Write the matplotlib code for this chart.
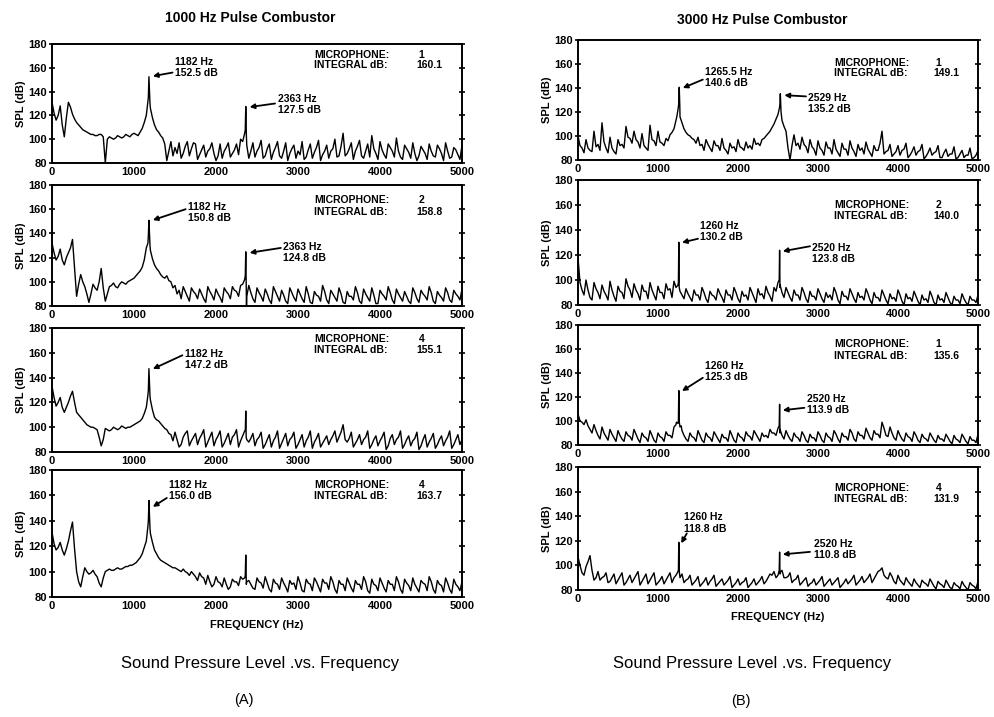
import numpy as np
import matplotlib
matplotlib.use("Agg")
import matplotlib.pyplot as plt

plt.rcParams['font.family'] = ['Liberation Sans', 'DejaVu Sans']

# analyser bins (Hz): main bins every 50 Hz and the in-between bins
freq_grid = np.arange(0, 5001, 50)
mid_grid = np.arange(25, 5000, 50)

# ---- (A) 1000 Hz pulse combustor ----
a1_spl = [131, 116, 128, 102, 131, 121, 114, 110, 107, 105, 104, 103, 104, 80, 102, 100, 103, 101, 104, 102,
          105, 103, 109, 120, 126, 112, 106, 101, 82, 98, 93, 97, 88, 98, 92, 96, 87, 95, 90, 97,
          82, 96, 90, 97, 88, 96, 100, 105, 84, 97, 90, 99, 86, 96, 89, 98, 84, 97, 88, 95,
          90, 98, 85, 96, 89, 99, 87, 95, 90, 100, 86, 105, 88, 97, 90, 99, 84, 96, 103, 88,
          98, 87, 96, 90, 101, 85, 95, 89, 97, 82, 94, 88, 96, 86, 95, 88, 97, 84, 93, 87, 95]
a1_mid = [122, 120, 112, 118, 127, 117, 112, 108, 106, 104,
          103, 104, 102, 100, 101, 101, 102, 102, 103, 104,
          104, 106, 114, 135, 118, 108, 103, 96, 90, 86,
          88, 84, 94, 86, 97, 83, 91, 85, 92, 88,
          86, 84, 93, 85, 91, 87, 98, 95, 90, 85,
          93, 84, 92, 83, 93, 86, 90, 82, 92, 84,
          87, 83, 91, 84, 93, 82, 90, 84, 92, 85,
          94, 86, 92, 83, 94, 86, 90, 85, 92, 83,
          91, 84, 93, 85, 90, 83, 92, 84, 88, 86,
          91, 83, 90, 85, 92, 82, 90, 85, 91, 83]
a1_peak_f = [1170, 1182, 1195, 2357, 2363, 2370]
a1_peak_db = [132, 152.5, 130, 108, 127.5, 104]

a2_spl = [132, 118, 127, 114, 124, 135, 88, 106, 96, 83, 98, 93, 111, 84, 96, 99, 95, 100, 98, 101,
          103, 107, 112, 128, 126, 114, 109, 104, 105, 100, 97, 93, 96, 88, 95, 90, 94, 86, 96, 89,
          94, 87, 95, 90, 96, 92, 97, 102, 97, 86, 95, 88, 94, 85, 96, 88, 93, 84, 95, 87,
          94, 86, 96, 83, 92, 88, 97, 85, 93, 87, 95, 83, 92, 88, 96, 84, 94, 87, 95, 82,
          93, 88, 96, 85, 94, 87, 92, 84, 95, 86, 93, 88, 96, 84, 92, 87, 95, 85, 93, 88, 94]
a2_mid = [124, 121, 118, 120, 128, 112, 98, 100, 90, 90,
          95, 100, 95, 90, 97, 96, 98, 99, 100, 102,
          105, 109, 118, 138, 119, 111, 106, 103, 101, 95,
          90, 86, 92, 84, 92, 86, 90, 83, 92, 85,
          90, 83, 92, 86, 93, 88, 98, 88, 91, 83,
          91, 84, 90, 82, 92, 84, 89, 82, 91, 84,
          90, 83, 90, 82, 89, 84, 92, 82, 90, 84,
          90, 82, 88, 85, 91, 82, 90, 84, 89, 82,
          90, 85, 91, 82, 90, 84, 88, 82, 91, 83,
          90, 85, 91, 82, 89, 84, 91, 83, 90, 85]
a2_peak_f = [1170, 1182, 1195, 2357, 2363, 2372]
a2_peak_db = [132, 150.8, 130, 105, 124.8, 80]

a3_spl = [133, 117, 124, 112, 120, 129, 112, 108, 104, 101, 100, 98, 85, 99, 97, 100, 98, 101, 99, 100,
          102, 104, 107, 116, 122, 108, 105, 101, 98, 94, 96, 84, 92, 97, 89, 95, 91, 98, 88, 96,
          90, 97, 87, 95, 92, 98, 89, 97, 88, 95, 90, 96, 86, 94, 89, 97, 87, 95, 90, 96,
          86, 94, 89, 97, 88, 95, 87, 93, 90, 97, 92, 102, 88, 96, 87, 94, 90, 97, 86, 93,
          89, 96, 85, 94, 90, 97, 86, 93, 89, 96, 85, 94, 88, 95, 86, 93, 89, 97, 86, 94, 90]
a3_mid = [124, 120, 116, 116, 125, 120, 110, 106, 102, 100,
          99, 92, 90, 98, 98, 99, 99, 100, 100, 101,
          103, 105, 111, 130, 114, 106, 103, 99, 95, 89,
          90, 86, 95, 85, 92, 86, 94, 84, 92, 85,
          93, 84, 91, 86, 94, 84, 93, 90, 91, 85,
          92, 83, 90, 84, 92, 83, 91, 85, 92, 83,
          90, 84, 92, 83, 91, 84, 90, 86, 93, 88,
          96, 90, 91, 84, 90, 86, 92, 83, 90, 85,
          92, 82, 91, 86, 92, 83, 90, 85, 91, 82,
          90, 84, 91, 83, 90, 85, 92, 83, 90, 86]
a3_peak_f = [1170, 1182, 1195, 2358, 2363, 2368]
a3_peak_db = [126, 147.2, 125, 98, 113, 92]

a4_spl = [131, 117, 123, 113, 124, 139, 100, 88, 103, 98, 101, 96, 88, 100, 102, 101, 103, 102, 104, 105,
          106, 109, 114, 124, 130, 117, 111, 108, 106, 104, 103, 101, 102, 99, 100, 96, 99, 95, 97, 88,
          96, 91, 95, 86, 94, 92, 96, 95, 93, 87, 95, 91, 96, 86, 94, 90, 95, 88, 93, 91,
          96, 85, 94, 90, 95, 88, 94, 91, 96, 86, 93, 90, 95, 87, 93, 90, 96, 85, 94, 89,
          95, 87, 93, 90, 96, 86, 94, 89, 95, 87, 93, 90, 96, 86, 93, 89, 95, 86, 94, 88, 92]
a4_mid = [122, 119, 117, 118, 132, 118, 92, 96, 100, 99,
          98, 91, 95, 101, 101, 102, 102, 103, 104, 105,
          107, 111, 119, 140, 123, 114, 109, 107, 105, 103,
          102, 100, 100, 97, 98, 93, 96, 90, 92, 90,
          92, 88, 90, 88, 92, 89, 94, 92, 90, 86,
          92, 87, 91, 84, 91, 86, 91, 84, 90, 86,
          91, 84, 91, 85, 92, 84, 91, 86, 92, 83,
          90, 85, 91, 84, 90, 86, 92, 83, 90, 85,
          91, 84, 90, 85, 92, 83, 91, 85, 90, 84,
          91, 85, 92, 83, 90, 84, 91, 83, 90, 85]
a4_peak_f = [1170, 1182, 1195, 2357, 2363, 2370]
a4_peak_db = [136, 156.0, 134, 97, 113, 90]

# ---- (B) 3000 Hz pulse combustor ----
b1_spl = [100, 90, 97, 88, 104, 93, 111, 90, 99, 87, 97, 93, 108, 98, 104, 95, 102, 90, 109, 96,
          104, 94, 98, 101, 106, 122, 111, 103, 100, 97, 99, 93, 97, 90, 96, 92, 98, 88, 94, 91,
          97, 90, 95, 92, 98, 94, 97, 100, 104, 110, 118, 113, 104, 80, 101, 94, 99, 91, 97, 89,
          96, 88, 95, 90, 97, 86, 94, 89, 96, 87, 93, 90, 95, 86, 92, 88, 104, 87, 93, 85,
          92, 88, 94, 84, 91, 87, 93, 83, 90, 86, 92, 82, 89, 85, 91, 82, 88, 84, 90, 82, 88]
b1_mid = [92, 86, 90, 87, 91, 88, 95, 86, 90, 85,
          92, 90, 99, 94, 97, 90, 92, 88, 97, 92,
          95, 92, 96, 103, 113, 116, 106, 101, 98, 94,
          92, 88, 93, 87, 92, 88, 90, 85, 90, 87,
          91, 88, 90, 89, 93, 92, 98, 102, 107, 114,
          128, 108, 90, 92, 92, 89, 93, 86, 91, 84,
          90, 84, 90, 85, 89, 83, 89, 84, 90, 83,
          88, 85, 89, 83, 88, 94, 85, 88, 83, 87,
          84, 89, 82, 87, 84, 88, 81, 86, 84, 87,
          82, 86, 83, 85, 81, 85, 82, 84, 81, 84]
b1_peak_f = [1235, 1258, 1265.5, 1273, 2520, 2529, 2538]
b1_peak_db = [116, 126, 140.6, 124, 124, 135.2, 120]

b2_spl = [118, 92, 100, 86, 98, 90, 96, 88, 99, 87, 95, 90, 101, 92, 97, 89, 96, 91, 98, 88,
          95, 90, 97, 93, 99, 96, 88, 93, 86, 92, 88, 94, 85, 91, 87, 93, 86, 92, 88, 94,
          85, 91, 88, 94, 86, 93, 89, 95, 87, 94, 98, 90, 94, 86, 92, 88, 94, 85, 91, 87,
          93, 85, 90, 88, 94, 84, 91, 87, 93, 85, 90, 87, 93, 84, 90, 86, 92, 84, 89, 86,
          92, 83, 89, 86, 91, 83, 88, 85, 91, 82, 88, 85, 90, 82, 87, 84, 89, 82, 87, 84, 88]
b2_mid = [98, 88, 92, 84, 93, 85, 91, 84, 92, 83,
          91, 85, 95, 86, 92, 84, 91, 85, 92, 84,
          90, 85, 92, 86, 94, 91, 85, 89, 83, 88,
          84, 90, 82, 88, 84, 89, 82, 88, 84, 90,
          82, 87, 84, 90, 82, 88, 85, 90, 83, 91,
          94, 86, 90, 83, 88, 84, 90, 82, 87, 84,
          89, 82, 86, 84, 90, 81, 87, 84, 89, 82,
          86, 84, 89, 81, 86, 83, 88, 81, 85, 83,
          88, 80, 85, 83, 87, 80, 84, 82, 87, 80,
          84, 82, 86, 80, 84, 81, 85, 80, 84, 82]
b2_peak_f = [1255, 1260, 1265, 2515, 2520, 2526]
b2_peak_db = [98, 130.2, 94, 100, 123.8, 96]

b3_spl = [106, 99, 101, 93, 97, 88, 95, 87, 93, 86, 92, 85, 91, 87, 93, 85, 90, 86, 92, 84,
          90, 86, 91, 88, 95, 98, 92, 85, 90, 86, 92, 84, 90, 86, 91, 85, 89, 86, 92, 84,
          90, 86, 91, 87, 92, 86, 90, 88, 93, 90, 94, 88, 92, 85, 90, 86, 91, 84, 89, 86,
          91, 84, 90, 86, 92, 85, 90, 87, 93, 85, 91, 88, 94, 86, 92, 89, 99, 88, 95, 86,
          92, 85, 90, 86, 91, 84, 89, 85, 90, 84, 88, 85, 89, 83, 88, 84, 89, 83, 87, 84, 89]
b3_mid = [100, 97, 96, 90, 92, 85, 90, 84, 89, 83,
          88, 83, 88, 84, 89, 82, 87, 83, 88, 82,
          87, 83, 88, 86, 97, 95, 88, 83, 87, 83,
          88, 82, 87, 83, 88, 82, 86, 83, 88, 82,
          87, 83, 88, 84, 89, 83, 87, 86, 90, 88,
          90, 85, 88, 83, 87, 83, 88, 82, 86, 83,
          88, 82, 87, 83, 89, 82, 87, 84, 90, 83,
          88, 85, 90, 84, 89, 86, 94, 87, 90, 84,
          88, 83, 87, 83, 88, 82, 86, 83, 87, 82,
          85, 83, 86, 81, 85, 82, 86, 81, 84, 82]
b3_peak_f = [1230, 1255, 1260, 1266, 1290, 2515, 2520, 2526]
b3_peak_db = [99, 100, 125.3, 99, 96, 96, 113.9, 93]

b4_spl = [107, 94, 99, 108, 88, 95, 90, 94, 87, 93, 88, 94, 86, 92, 89, 95, 87, 93, 88, 94,
          86, 91, 88, 94, 90, 95, 93, 88, 92, 86, 91, 85, 90, 87, 92, 85, 89, 86, 91, 84,
          89, 86, 90, 84, 89, 86, 91, 87, 93, 95, 92, 96, 90, 94, 88, 92, 86, 90, 85, 89,
          86, 91, 85, 89, 86, 90, 84, 89, 87, 92, 86, 91, 88, 93, 89, 95, 98, 90, 94, 87,
          92, 86, 90, 85, 89, 84, 88, 85, 89, 83, 87, 84, 88, 82, 86, 83, 87, 82, 86, 83, 87]
b4_mid = [100, 92, 103, 96, 90, 88, 91, 86, 90, 85,
          91, 84, 89, 86, 92, 84, 90, 85, 91, 84,
          88, 85, 91, 86, 92, 90, 86, 89, 84, 88,
          83, 87, 84, 89, 83, 87, 84, 88, 82, 86,
          84, 87, 82, 86, 84, 88, 85, 90, 92, 90,
          93, 90, 91, 86, 89, 84, 88, 83, 86, 84,
          88, 83, 87, 84, 88, 82, 86, 85, 89, 84,
          88, 86, 90, 86, 92, 96, 92, 89, 91, 85,
          88, 84, 87, 83, 86, 82, 86, 83, 86, 81,
          85, 82, 85, 81, 84, 81, 84, 80, 84, 81]
b4_peak_f = [1255, 1260, 1266, 2515, 2520, 2526]
b4_peak_db = [96, 118.8, 95, 96, 110.8, 94]

mic_ids = ['1', '2', '4', '4', '1', '2', '1', '4']
integral_db = ['160.1', '158.8', '155.1', '163.7', '149.1', '140.0', '135.6', '131.9']

x_ticks = [0, 1000, 2000, 3000, 4000, 5000]
y_ticks = [80, 100, 120, 140, 160, 180]


def merge(spl, mid, pf, pdb):
    f = np.concatenate([freq_grid, mid_grid, pf])
    v = np.concatenate([spl, mid, pdb])
    order = np.argsort(f, kind='stable')
    return f[order], v[order]


W, H = 994, 717
fig = plt.figure(figsize=(W / 100, H / 100), dpi=100)

left_rows = [(44, 163), (185, 306), (328, 452), (470, 597)]
right_rows = [(40, 160), (180, 305), (325, 445), (467, 590)]
cols = [(52, 462, left_rows), (578, 978, right_rows)]

series = [(a1_spl, a1_mid, a1_peak_f, a1_peak_db), (a2_spl, a2_mid, a2_peak_f, a2_peak_db),
          (a3_spl, a3_mid, a3_peak_f, a3_peak_db), (a4_spl, a4_mid, a4_peak_f, a4_peak_db),
          (b1_spl, b1_mid, b1_peak_f, b1_peak_db), (b2_spl, b2_mid, b2_peak_f, b2_peak_db),
          (b3_spl, b3_mid, b3_peak_f, b3_peak_db), (b4_spl, b4_mid, b4_peak_f, b4_peak_db)]

# peak labels: (text, text position, arrow tail, arrow head)
labels = [
    [("1182 Hz\n152.5 dB", (1500, 160.5), (1470, 156), (1230, 153)),
     ("2363 Hz\n127.5 dB", (2760, 129), (2720, 130), (2410, 127))],
    [("1182 Hz\n150.8 dB", (1660, 157), (1630, 160), (1230, 151)),
     ("2363 Hz\n124.8 dB", (2820, 124.5), (2790, 128), (2410, 124))],
    [("1182 Hz\n147.2 dB", (1620, 154.5), (1590, 158), (1230, 147))],
    [("1182 Hz\n156.0 dB", (1430, 164), (1400, 158), (1230, 151))],
    [("1265.5 Hz\n140.6 dB", (1590, 148.5), (1560, 147), (1310, 140)),
     ("2529 Hz\n135.2 dB", (2870, 127), (2850, 133), (2580, 134))],
    [("1260 Hz\n130.2 dB", (1520, 139), (1500, 133), (1300, 130)),
     ("2520 Hz\n123.8 dB", (2920, 121.5), (2900, 127), (2560, 123))],
    [("1260 Hz\n125.3 dB", (1590, 141), (1560, 136), (1300, 125)),
     ("2520 Hz\n113.9 dB", (2860, 113.5), (2830, 111), (2560, 109))],
    [("1260 Hz\n118.8 dB", (1330, 134.5), (1360, 126), (1290, 118)),
     ("2520 Hz\n110.8 dB", (2950, 113), (2900, 111), (2560, 109))],
]
mic_y = [(171, 162), (167.5, 158), (171, 162), (168.5, 159.5),
         (161, 152.5), (160, 151), (164, 154), (163, 154)]

k = 0
for x0, x1, rows in cols:
    for r, (top, bot) in enumerate(rows):
        ax = fig.add_axes([x0 / W, 1 - bot / H, (x1 - x0) / W, (bot - top) / H])
        spl, mid, pf, pdb = series[k]
        f, v = merge(spl, mid, pf, pdb)
        ax.plot(f, v, color='black', lw=1.0)
        ax.set_xlim(0, 5000)
        ax.set_ylim(80, 180)
        ax.set_xticks(x_ticks)
        ax.set_yticks(y_ticks)
        ax.tick_params(axis='y', direction='inout', length=5, width=1.2, right=True,
                       labelsize=8, pad=1)
        ax.tick_params(axis='x', length=0, labelsize=8, pad=3)
        for lab in ax.get_xticklabels() + ax.get_yticklabels():
            lab.set_fontweight('bold')
        for sp in ax.spines.values():
            sp.set_linewidth(1.4)
        ax.set_ylabel('SPL (dB)', fontsize=8, fontweight='bold', labelpad=2)
        for txt, tpos, tail, head in labels[k]:
            ax.text(tpos[0], tpos[1], txt, fontsize=7.5, fontweight='bold',
                    ha='left', va='center', linespacing=1.15)
            ax.annotate('', xy=head, xytext=tail,
                        arrowprops=dict(arrowstyle='-|>', lw=1.3, color='black',
                                        mutation_scale=7, shrinkA=0, shrinkB=0))
        my1, my2 = mic_y[k]
        ax.text(3200, my1, 'MICROPHONE:', fontsize=7.5, fontweight='bold', va='center')
        ax.text(4470, my1, mic_ids[k], fontsize=7.5, fontweight='bold', va='center')
        ax.text(3200, my2, 'INTEGRAL dB:', fontsize=7.5, fontweight='bold', va='center')
        ax.text(4440, my2, integral_db[k], fontsize=7.5, fontweight='bold', va='center')
        if r == 3:
            ax.set_xlabel('FREQUENCY (Hz)', fontsize=8, fontweight='bold', labelpad=6)
        k += 1

fig.text(0.252, 0.975, '1000 Hz Pulse Combustor', ha='center', va='center',
         fontsize=10, fontweight='bold')
fig.text(0.767, 0.972, '3000 Hz Pulse Combustor', ha='center', va='center',
         fontsize=10, fontweight='bold')
fig.text(0.262, 0.075, 'Sound Pressure Level .vs. Frequency', ha='center', va='center',
         fontsize=12)
fig.text(0.757, 0.075, 'Sound Pressure Level .vs. Frequency', ha='center', va='center',
         fontsize=12)
fig.text(0.245, 0.024, '(A)', ha='center', va='center', fontsize=10.5)
fig.text(0.745, 0.022, '(B)', ha='center', va='center', fontsize=10.5)

fig.savefig('out.png', dpi=100)
